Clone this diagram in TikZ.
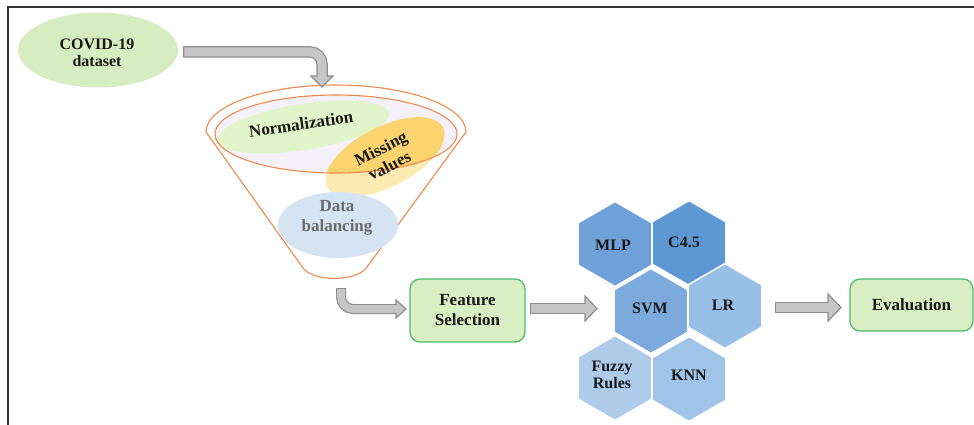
\documentclass[tikz,border=0pt]{standalone}
\usepackage{fontspec}
\setmainfont{Liberation Serif}
\usetikzlibrary{shapes.geometric}
\definecolor{bordercol}{HTML}{333333}
\definecolor{covidfill}{HTML}{D8ECC2}
\definecolor{boxfill}{HTML}{D9EFC3}
\definecolor{boxedge}{HTML}{4DBB6A}
\definecolor{arrfill}{HTML}{C6C6C6}
\definecolor{arredge}{HTML}{8E8E8E}
\definecolor{funnelcol}{HTML}{F08A4B}
\definecolor{lavender}{HTML}{F4F1FA}
\definecolor{normfill}{HTML}{E2F5CA}
\definecolor{misslight}{HTML}{FDE9B2}
\definecolor{missdark}{HTML}{FBD470}
\definecolor{balfill}{HTML}{D5E4F2}
\definecolor{baltext}{HTML}{6B6B6B}
\definecolor{hexA}{HTML}{70A0D8}
\definecolor{hexB}{HTML}{5E98D4}
\definecolor{hexC}{HTML}{7CAADD}
\definecolor{hexD}{HTML}{98C0E6}
\definecolor{hexE}{HTML}{AECCEA}
\definecolor{hexF}{HTML}{A0C4E8}
\newcommand\hexagonat[3]{\fill[#3, draw=white, line width=1.5pt, shift={(#1,#2)}] (90:42.5) -- (150:42.5) -- (210:42.5) -- (270:42.5) -- (330:42.5) -- (30:42.5) -- cycle;}
\tikzset{
  lbl/.style={font=\bfseries\fontsize{17}{20}\selectfont, text=black!90, align=center, inner sep=0pt},
  hexlbl/.style={font=\bfseries\fontsize{16}{17}\selectfont, text=black!90, align=center, inner sep=0pt},
  box/.style={draw=boxedge, fill=boxfill, line width=1.3pt, rounded corners=10pt, align=center, inner sep=0pt},
  shaftedge/.style={draw=arredge, line width=11.5pt, rounded corners=12pt},
  shaftfill/.style={draw=arrfill, line width=9pt, rounded corners=12pt},
  headstyle/.style={fill=arrfill, draw=arredge, line width=1.2pt, line join=miter},
  funnelline/.style={draw=funnelcol, line width=1.1pt}
}
\begin{document}
\begin{tikzpicture}[x=1pt,y=1pt]
\useasboundingbox (0,0) rectangle (974,-425);
% frame
\draw[bordercol, line width=1.4pt] (8,-425) -- (8,-7) -- (974,-7);

% COVID ellipse
\node[ellipse, fill=covidfill, minimum width=160, minimum height=75, inner sep=0pt] (covid) at (98,-50) {};
\node[align=center, inner sep=0pt, font=\bfseries\fontsize{16}{17}\selectfont, text=black!90] (covidtxt) at (97,-53)
  {COVID-19\\dataset};

% funnel
\draw[funnelline, fill=white] (206,-132) arc[start angle=180, end angle=0, x radius=130, y radius=47]
  -- (367,-267) .. controls (357,-282) and (313,-282) .. (303,-268) -- cycle;
\fill[lavender] (336,-134) ellipse [x radius=121, y radius=39];
\node[ellipse, fill=normfill, minimum width=174, minimum height=46, inner sep=0pt, rotate=9] (norm) at (303,-127) {};
\node[ellipse, fill=misslight, minimum width=130, minimum height=60, inner sep=0pt, rotate=27] (miss) at (385,-157) {};
\begin{scope}
  \clip (336,-134) ellipse [x radius=121, y radius=39];
  \fill[missdark, rotate around={27:(385,-157)}] (385,-157) ellipse [x radius=65, y radius=30];
\end{scope}
\draw[funnelline] (336,-134) ellipse [x radius=121, y radius=39];
\node[lbl, rotate=8] (normtxt) at (301,-124) {Normalization};
\node[lbl, rotate=27] (misstxt) at (385,-157) {Missing\\[-1pt]values};
\node[ellipse, fill=balfill, minimum width=120, minimum height=66, inner sep=0pt] (bal) at (338,-225) {};
\node[lbl, text=baltext] (baltxt) at (337,-218) {Data\\balancing};

% boxes
\node[box, minimum width=115, minimum height=63, lbl] (fs) at (467.5,-310.5) {Feature\\Selection};
\node[box, minimum width=123, minimum height=52, lbl] (ev) at (911.5,-305) {Evaluation};

% hexagons
\hexagonat{615}{-244}{hexA}
\hexagonat{689}{-243}{hexB}
\hexagonat{651}{-311}{hexC}
\hexagonat{725}{-306}{hexD}
\hexagonat{615}{-378}{hexE}
\hexagonat{689}{-379}{hexF}
\node[hexlbl] (mlp) at (613,-245) {MLP};
\node[hexlbl] (c45) at (684,-242) {C4.5};
\node[hexlbl] (svm) at (650,-308) {SVM};
\node[hexlbl] (lr) at (723,-305) {LR};
\node[hexlbl] (fuzzy) at (612,-375) {Fuzzy\\Rules};
\node[hexlbl] (knn) at (689,-375) {KNN};

% arrow 1: covid -> funnel
\coordinate (a1s) at (183,-52);
\coordinate (a1c) at (322,-52);
\coordinate (a1e) at (322,-76);
\coordinate (a1t) at (322,-87);
\draw[shaftedge] (a1s) -- (a1c) -- (a1e);
\draw[headstyle] (311,-76) -- (a1t) -- (333,-76) -- cycle;
\draw[shaftfill, shorten <=1.25pt] (a1s) -- (a1c) -- (322,-77.5);

% arrow 2: funnel -> feature selection
\coordinate (a2s) at (341,-288);
\coordinate (a2c) at (341,-309);
\coordinate (a2e) at (396,-309);
\coordinate (a2t) at (406,-309);
\draw[shaftedge, line width=10pt] (a2s) -- (a2c) -- (a2e);
\draw[headstyle] (396,-300) -- (a2t) -- (396,-318) -- cycle;
\draw[shaftfill, line width=7.6pt, shorten <=1.2pt] (a2s) -- (a2c) -- (397.5,-309);

% arrow 3: feature selection -> hexagons
\coordinate (a3s) at (530,-308.5);
\coordinate (a3e) at (585,-308.5);
\coordinate (a3t) at (597,-308.5);
\draw[shaftedge] (a3s) -- (a3e);
\draw[headstyle] (585,-296) -- (a3t) -- (585,-321) -- cycle;
\draw[shaftfill, shorten <=1.25pt] (a3s) -- (586.5,-308.5);

% arrow 4: hexagons -> evaluation
\coordinate (a4s) at (775,-307.5);
\coordinate (a4e) at (828,-307.5);
\coordinate (a4t) at (841,-307.5);
\draw[shaftedge] (a4s) -- (a4e);
\draw[headstyle] (828,-294) -- (a4t) -- (828,-321) -- cycle;
\draw[shaftfill, shorten <=1.25pt] (a4s) -- (829.5,-307.5);
\end{tikzpicture}
\end{document}
